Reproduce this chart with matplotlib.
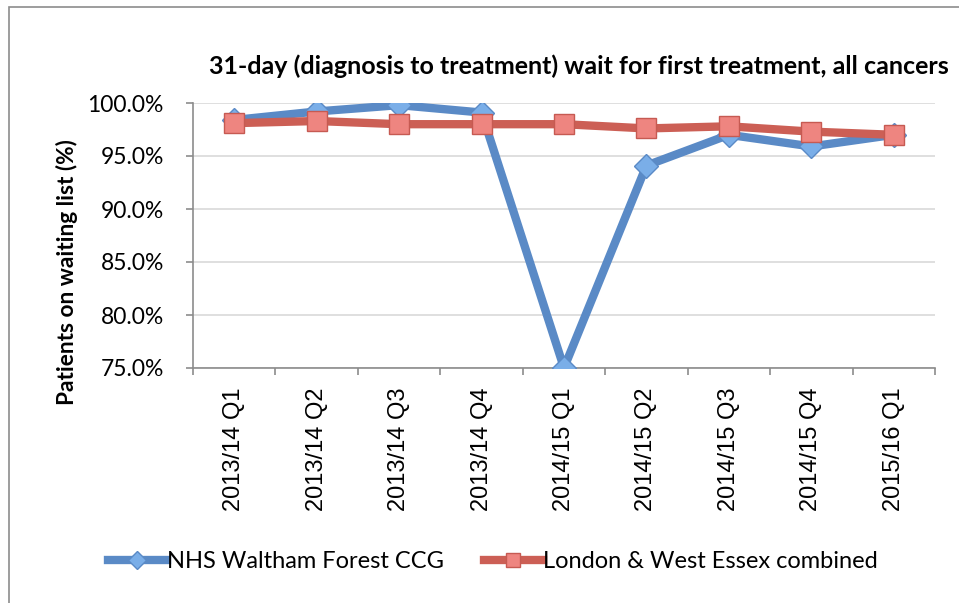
import matplotlib
matplotlib.use("Agg")
import matplotlib.pyplot as plt
from matplotlib.ticker import FuncFormatter, FixedLocator
from matplotlib.patches import Rectangle

categories = ["2013/14 Q1", "2013/14 Q2", "2013/14 Q3", "2013/14 Q4",
              "2014/15 Q1", "2014/15 Q2", "2014/15 Q3", "2014/15 Q4", "2015/16 Q1"]
waltham = [98.4, 99.2, 99.8, 99.1, 75.0, 94.1, 97.0, 95.9, 97.0]
london = [98.1, 98.3, 98.0, 98.0, 98.0, 97.6, 97.8, 97.3, 97.0]
yticks = [75, 80, 85, 90, 95, 100]

title = "31-day (diagnosis to treatment) wait for first treatment, all cancers"
ylabel = "Patients on waiting list (%)"

fam = ["Lato", "DejaVu Sans"]
plt.rcParams['font.family'] = fam

fig = plt.figure(figsize=(9.59, 6.03), dpi=100)
ax = fig.add_axes([193/959, 1-368/603, (935-193)/959, (368-103)/603])

# outer frame
fig.patches.append(Rectangle((9/959, -0.1), 1.2, 1-7/603+0.1, transform=fig.transFigure,
                             fill=False, edgecolor="#8c8c8c", linewidth=1.2))

x = list(range(len(categories)))
ax.plot(x, waltham, color="#5a8ac6", linewidth=6, marker="D", markersize=12,
        markerfacecolor="#7aaee8", markeredgecolor="#5a8ac6", markeredgewidth=1,
        label="NHS Waltham Forest CCG", zorder=3, solid_joinstyle="miter")
ax.plot(x, london, color="#cc5f55", linewidth=6, marker="s", markersize=14,
        markerfacecolor="#ee8580", markeredgecolor="#c65a52", markeredgewidth=1,
        label="London & West Essex combined", zorder=4)

ax.set_xlim(-0.5, len(categories) - 0.5)
ax.set_ylim(75, 100)
ax.set_yticks(yticks)
ax.yaxis.set_major_formatter(FuncFormatter(lambda v, p: f"{v:.1f}%"))
ax.set_xticks(x)
ax.set_xticklabels(categories, rotation=90, fontsize=17, family=["Liberation Sans"])
ax.tick_params(axis="x", length=0, pad=14)
ax.xaxis.set_minor_locator(FixedLocator([i - 0.5 for i in range(len(categories) + 1)]))
ax.tick_params(axis="x", which="minor", length=5, color="#8c8c8c", width=1.2)
ax.tick_params(axis="y", length=5, color="#8c8c8c", width=1.2, labelsize=16.5, pad=16)

ax.grid(axis="y", color="#d9d9d9", linewidth=1.2)
ax.set_axisbelow(True)
for s in ["top", "right"]:
    ax.spines[s].set_visible(False)
for s in ["left", "bottom"]:
    ax.spines[s].set_color("#8c8c8c")
    ax.spines[s].set_linewidth(1.2)

fig.text(579/959, 1-66/603, title, fontsize=18, fontweight="bold", ha="center", va="center")
fig.text(67/959, 1-272/603, ylabel, fontsize=16.3, fontweight="bold", ha="center", va="center",
         rotation=90)

leg = fig.legend(loc="center", bbox_to_anchor=(0.5136, 1-562/603), ncol=2, frameon=False,
                 fontsize=17, handlelength=2.5, handletextpad=0.0, columnspacing=1.7,
                 markerscale=0.75)

fig.savefig("out.png", dpi=100)
